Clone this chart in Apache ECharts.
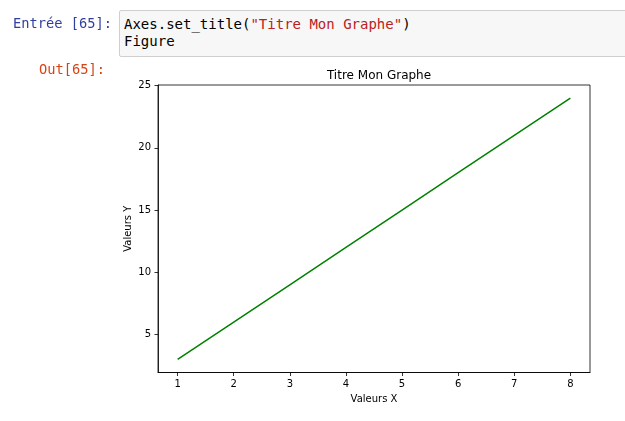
<!DOCTYPE html>
<html>
<head>
<meta charset="utf-8">
<script src="https://cdn.jsdelivr.net/npm/echarts@6/dist/echarts.min.js"></script>
<style>
    html, body { margin: 0; padding: 0; background: #fff; }
    #page { position: relative; width: 625px; height: 421px; overflow: hidden; }
    .prompt { position: absolute; font-family: 'DejaVu Sans Mono', monospace; font-size: 13.7px; line-height: 17px; text-align: right; white-space: pre; }
    #inPrompt { left: 0; width: 112px; top: 15px; color: #303F9F; }
    #outPrompt { left: 0; width: 105px; top: 61px; color: #D84315; }
    #cell { position: absolute; left: 119px; top: 10px; width: 520px; height: 45px; background: #f7f7f7; border: 1px solid #cfcfcf; border-radius: 2px; }
    #code { position: absolute; left: 4px; top: 5px; font-family: 'DejaVu Sans Mono', monospace; font-size: 14px; line-height: 17px; color: #000; white-space: pre; }
    .str { color: #BA2121; }
    #chart { position: absolute; left: 0; top: 0; width: 625px; height: 421px; }
</style>
</head>
<body>
<div id="page">
    <div id="chart"></div>
    <div class="prompt" id="inPrompt">Entrée [65]:</div>
    <div id="cell"><div id="code">Axes.set_title(<span class="str">"Titre Mon Graphe"</span>)
Figure</div></div>
    <div class="prompt" id="outPrompt">Out[65]:</div>
</div>
<script>
(function () {
    // values
    var xValues = [1, 2, 3, 4, 5, 6, 7, 8];
    var yValues = [3, 6, 9, 12, 15, 18, 21, 24];
    var xTicks = [1, 2, 3, 4, 5, 6, 7, 8];
    var yTicks = [5, 10, 15, 20, 25];
    var titleText = 'Titre Mon Graphe';
    var xName = 'Valeurs X';
    var yName = 'Valeurs Y';

    var pts = [];
    for (var i = 0; i < xValues.length; i++) pts.push([xValues[i], yValues[i]]);

    var font = 'DejaVu Sans, sans-serif';
    var chart = echarts.init(document.getElementById('chart'), null, { renderer: 'canvas' });
    chart.setOption({
        animation: false,
        title: {
            text: titleText, left: 374, top: 65, textAlign: 'center',
            textStyle: { fontFamily: font, fontSize: 12, fontWeight: 'normal', color: '#000' }
        },
        grid: {
            left: 158, top: 85, right: 35, bottom: 48.5,
            show: true, borderColor: '#000', borderWidth: 0.8, backgroundColor: '#fff'
        },
        xAxis: {
            type: 'value', min: 0.65, max: 8.35,
            name: xName, nameLocation: 'middle', nameGap: 22, nameMoveOverlap: false,
            nameTextStyle: { fontFamily: font, fontSize: 10, color: '#000' },
            axisLine: { show: true, onZero: false, lineStyle: { color: '#000', width: 0.8 } },
            axisTick: { show: true, customValues: xTicks, length: 3.5, lineStyle: { color: '#000', width: 0.8 } },
            axisLabel: { customValues: xTicks, margin: 7, fontFamily: font, fontSize: 10, color: '#000' },
            splitLine: { show: false }
        },
        yAxis: {
            type: 'value', min: 1.95, max: 25.05,
            name: yName, nameLocation: 'middle', nameGap: 25, nameRotate: 90, nameMoveOverlap: false,
            nameTextStyle: { fontFamily: font, fontSize: 10, color: '#000' },
            axisLine: { show: true, onZero: false, lineStyle: { color: '#000', width: 0.8 } },
            axisTick: { show: true, customValues: yTicks, length: 3.5, lineStyle: { color: '#000', width: 0.8 } },
            axisLabel: { customValues: yTicks, margin: 7, fontFamily: font, fontSize: 10, color: '#000' },
            splitLine: { show: false }
        },
        series: [{
            type: 'line',
            data: pts,
            showSymbol: false,
            lineStyle: { color: '#008000', width: 1.5 },
            itemStyle: { color: '#008000' }
        }]
    });
})();
</script>
</body>
</html>
